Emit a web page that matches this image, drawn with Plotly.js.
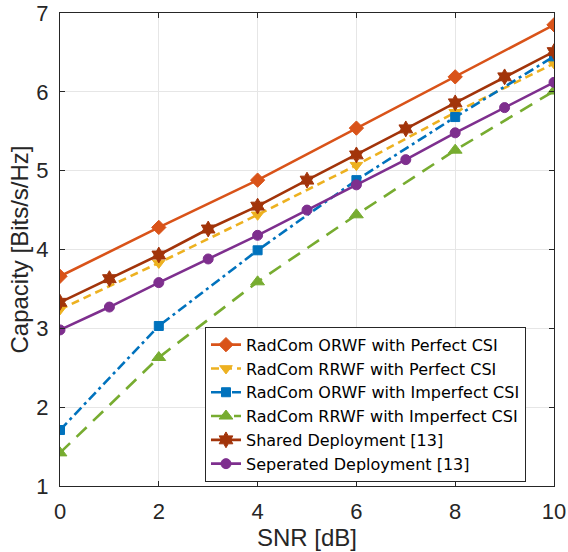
<!DOCTYPE html>
<html>
<head>
<meta charset="utf-8">
<script src="https://cdn.plot.ly/plotly-3.0.1.min.js"></script>
<style>html,body{margin:0;padding:0;background:#fff;}#chart{width:568px;height:552px;}</style>
</head>
<body>
<div id="chart"></div>
<script>
var snrEven = [0, 2, 4, 6, 8, 10];
var snrAll = [0, 1, 2, 3, 4, 5, 6, 7, 8, 9, 10];
var orwfPerfect = [3.66, 4.28, 4.88, 5.54, 6.19, 6.85];
var rrwfPerfect = [3.24, 3.83, 4.44, 5.07, 5.74, 6.36];
var orwfImperfect = [1.71, 3.03, 3.99, 4.88, 5.68, 6.45];
var rrwfImperfect = [1.42, 2.63, 3.59, 4.44, 5.26, 6.01];
var shared = [3.33, 3.63, 3.93, 4.26, 4.55, 4.88, 5.20, 5.53, 5.86, 6.19, 6.51];
var separated = [2.98, 3.27, 3.58, 3.88, 4.18, 4.50, 4.82, 5.14, 5.48, 5.80, 6.12];
var names = ['RadCom ORWF with Perfect CSI', 'RadCom RRWF with Perfect CSI', 'RadCom ORWF with Imperfect CSI', 'RadCom RRWF with Imperfect CSI', 'Shared Deployment [13]', 'Seperated Deployment [13]'];

var FONT = 'Liberation Sans, Arial, Helvetica, sans-serif';
function tr(x, y, name, color, dash, symbol, size) {
  return {x: x, y: y, name: name, type: 'scatter', mode: 'lines+markers',
    line: {color: color, width: 2.6, dash: dash},
    marker: {color: color, symbol: symbol, size: size, line: {color: color, width: 1}}};
}
var data = [
  tr(snrEven, orwfPerfect, names[0], '#D95319', 'solid', 'diamond', 11),
  tr(snrEven, rrwfPerfect, names[1], '#EDB120', '8px,5px', 'triangle-down', 11),
  tr(snrEven, orwfImperfect, names[2], '#0072BD', '10px,4px,3px,4px', 'square', 9),
  tr(snrEven, rrwfImperfect, names[3], '#77AC30', '14px,9px', 'triangle-up', 12),
  tr(snrAll, shared, names[4], '#A2340A', 'solid', 'hexagram', 12),
  tr(snrAll, separated, names[5], '#7E2F8E', 'solid', 'circle', 10)
];
var axisCommon = {
  showline: true, linecolor: '#262626', linewidth: 1, mirror: 'ticks',
  ticks: 'inside', ticklen: 5, tickcolor: '#262626',
  showgrid: true, gridcolor: '#e6e6e6', gridwidth: 1, zeroline: false,
  tickfont: {family: FONT, size: 22, color: '#262626'}
};
var layout = {
  width: 568, height: 552,
  margin: {l: 60, r: 14, t: 13, b: 66},
  paper_bgcolor: '#fff', plot_bgcolor: '#fff',
  showlegend: true,
  xaxis: Object.assign({}, axisCommon, {range: [0, 10], tickvals: [0, 2, 4, 6, 8, 10],
    ticklabelstandoff: 6,
    title: {text: 'SNR [dB]', font: {family: FONT, size: 24, color: '#262626'}, standoff: 2}}),
  yaxis: Object.assign({}, axisCommon, {range: [1, 7], tickvals: [1, 2, 3, 4, 5, 6, 7],
    ticklabelstandoff: 6,
    title: {text: 'Capacity [Bits/s/Hz]', font: {family: FONT, size: 24, color: '#262626'}, standoff: 0}}),
  legend: {x: 0.2935, y: 0.009, xanchor: 'left', yanchor: 'bottom',
    bgcolor: '#fff', bordercolor: '#262626', borderwidth: 1,
    font: {family: 'DejaVu Sans, Liberation Sans, sans-serif', size: 16, color: '#000'},
    tracegroupgap: 0, itemwidth: 30}
};
Plotly.newPlot('chart', data, layout, {displayModeBar: false, staticPlot: true});
</script>
</body>
</html>
